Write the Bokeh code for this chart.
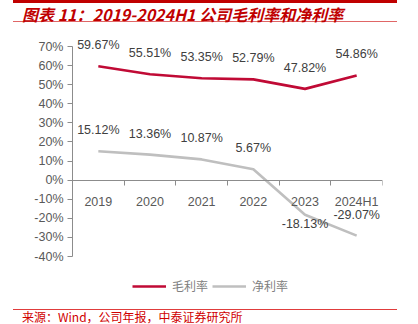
from bokeh.plotting import figure
from bokeh.models import (ColumnDataSource, FixedTicker, LinearAxis, Range1d,
                          Legend, LegendItem, Div)
from bokeh.layouts import column
from bokeh.embed import file_html
from bokeh.resources import INLINE
from bokeh.core.properties import value

# ---------------- data ----------------
years = ["2019", "2020", "2021", "2022", "2023", "2024H1"]
gross_margin = [59.67, 55.51, 53.35, 52.79, 47.82, 54.86]
net_margin = [15.12, 13.36, 10.87, 5.67, -18.13, -29.07]
y_ticks = [-40, -30, -20, -10, 0, 10, 20, 30, 40, 50, 60, 70]
series_names = ["毛利率", "净利率"]
title_text = "图表 11：2019-2024H1 公司毛利率和净利率"
source_text = "来源：Wind，公司年报，中泰证券研究所"

RED = "#C00A35"
GRAY = "#BFBFBF"
AXIS = "#8C8C8C"
TICKTXT = "#595959"
LBLTXT = "#404040"
FONT = "Liberation Sans"

xs = [i + 0.5 for i in range(len(years))]

# frame extends below the axis so the legend can sit inside it
p = figure(width=418, height=282, x_range=Range1d(0, len(years)),
           y_range=Range1d(-63.03, 76.3), output_backend="svg",
           toolbar_location=None, min_border_left=72, min_border_right=36,
           min_border_top=8, min_border_bottom=8,
           x_axis_location=None, y_axis_location=None)
p.grid.visible = False
p.outline_line_color = None
p.background_fill_color = None
p.border_fill_color = "white"

yaxis = LinearAxis(ticker=FixedTicker(ticks=y_ticks, minor_ticks=[]),
                   bounds=(y_ticks[0], y_ticks[-1]),
                   major_label_overrides={t: f"{t}%" for t in y_ticks})
yaxis.axis_line_color = AXIS
yaxis.major_tick_line_color = AXIS
yaxis.major_tick_out = 5
yaxis.major_tick_in = 0
yaxis.minor_tick_line_color = None
yaxis.major_label_standoff = 4
yaxis.major_label_text_font = FONT
yaxis.major_label_text_font_size = "12.5px"
yaxis.major_label_text_color = TICKTXT
p.add_layout(yaxis, "left")

xaxis = LinearAxis(ticker=FixedTicker(ticks=xs, minor_ticks=list(range(1, len(years) + 1))),
                   fixed_location=0, bounds=(0, len(years)),
                   major_label_overrides={x: y for x, y in zip(xs, years)})
xaxis.axis_line_color = AXIS
xaxis.major_tick_line_color = None
xaxis.major_tick_out = 0
xaxis.major_tick_in = 0
xaxis.minor_tick_line_color = AXIS
xaxis.minor_tick_out = 5
xaxis.minor_tick_in = 0
xaxis.major_label_standoff = 10
xaxis.major_label_text_font = FONT
xaxis.major_label_text_font_size = "12.5px"
xaxis.major_label_text_color = TICKTXT
p.add_layout(xaxis, "below")

r1 = p.line(xs, gross_margin, line_color=RED, line_width=2.6)
r2 = p.line(xs, net_margin, line_color=GRAY, line_width=2.6)

gross_off = [-21] * len(gross_margin)
net_off = [-21] * len(net_margin)
net_off[4] = 9  # 2023 net label sits below its point

src_g = ColumnDataSource(dict(x=xs, y=gross_margin,
                              t=[f"{v:.2f}%" for v in gross_margin], o=gross_off))
src_n = ColumnDataSource(dict(x=xs, y=net_margin,
                              t=[f"{v:.2f}%" for v in net_margin], o=net_off))
for s in (src_g, src_n):
    p.text(x="x", y="y", text="t", y_offset="o", source=s,
           text_align="center", text_baseline="middle",
           text_font=value(FONT), text_font_size="12.5px", text_color=LBLTXT)

legend = Legend(items=[LegendItem(label=series_names[0], renderers=[r1]),
                       LegendItem(label=series_names[1], renderers=[r2])],
                location=(60, 6), orientation="horizontal",
                padding=0, margin=0, spacing=4, glyph_width=34,
                glyph_height=16, label_height=16, label_standoff=6,
                border_line_color=None, background_fill_alpha=0,
                label_text_font="Noto Sans CJK SC", label_text_font_size="12px",
                label_text_color="#808080")
p.add_layout(legend, "center")

title = Div(text=(
    '<div style="width:384px;height:22px;margin-left:13px;'
    'border-top:3px solid #C00000;border-bottom:1px solid #E06666;'
    "padding-left:9px;font-family:'Noto Sans CJK SC';font-size:16px;"
    'font-weight:bold;font-style:italic;color:#C00000;line-height:22px;'
    f'white-space:nowrap;">{title_text}</div>'),
    width=418, height=26, margin=(0, 0, 0, 0))

footer = Div(text=(
    '<div style="width:384px;margin-left:13px;margin-top:1px;'
    'border-top:1px solid #E03C3C;padding-left:9px;padding-top:0px;'
    "font-family:'Noto Sans CJK SC';font-size:12px;color:#D00000;"
    f'line-height:14px;white-space:nowrap;">{source_text}</div>'),
    width=418, height=16, margin=(0, 0, 0, 0))

layout = column(title, p, footer, margin=(0, 0, 0, 0), spacing=0)

with open("out.html", "w") as f:
    f.write(file_html(layout, INLINE))
